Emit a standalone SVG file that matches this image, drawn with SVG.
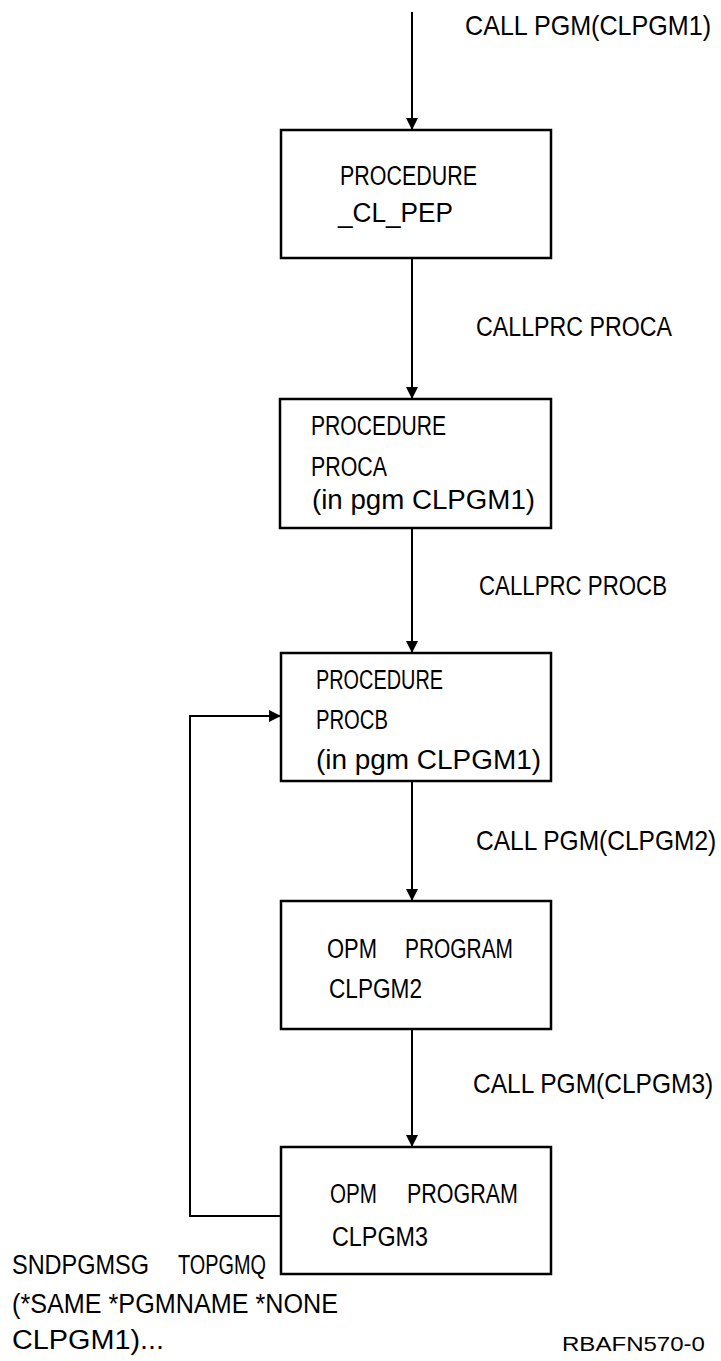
<svg xmlns="http://www.w3.org/2000/svg" width="721" height="1361" viewBox="0 0 721 1361">
<style>
  .box { fill: #ffffff; stroke: #000000; stroke-width: 2.5; }
  .edge { fill: none; stroke: #000000; stroke-width: 2; }
  text { font-family: "Liberation Sans", Arial, sans-serif; font-size: 27px; fill: #000000; }
  .small { font-size: 21px; }
</style>
<defs>
  <marker id="ah" viewBox="0 0 12 12" markerWidth="12" markerHeight="12" refX="12" refY="6" orient="auto" markerUnits="userSpaceOnUse">
    <path d="M0,0 L12,6 L0,12 z" fill="#000000"/>
  </marker>
</defs>
<rect width="721" height="1361" fill="#ffffff"/>

<g id="connectors">
  <line class="edge" x1="412" y1="12" x2="412" y2="130" marker-end="url(#ah)"/>
  <line class="edge" x1="412" y1="258" x2="412" y2="399" marker-end="url(#ah)"/>
  <line class="edge" x1="412" y1="528" x2="412" y2="653" marker-end="url(#ah)"/>
  <line class="edge" x1="412" y1="781" x2="412" y2="901" marker-end="url(#ah)"/>
  <line class="edge" x1="412" y1="1029" x2="412" y2="1147" marker-end="url(#ah)"/>
  <polyline class="edge" points="281,1216 190,1216 190,716 281,716" marker-end="url(#ah)"/>
  <text transform="translate(465,35) scale(0.84,1)" x="0" y="0" textLength="293" lengthAdjust="spacingAndGlyphs">CALL PGM(CLPGM1)</text>
  <text x="476" y="336" textLength="196" lengthAdjust="spacingAndGlyphs">CALLPRC PROCA</text>
  <text x="479" y="595" textLength="188" lengthAdjust="spacingAndGlyphs">CALLPRC PROCB</text>
  <text transform="translate(476,850) scale(0.82,1)" x="0" y="0" textLength="293" lengthAdjust="spacingAndGlyphs">CALL PGM(CLPGM2)</text>
  <text transform="translate(473,1093) scale(0.82,1)" x="0" y="0" textLength="293" lengthAdjust="spacingAndGlyphs">CALL PGM(CLPGM3)</text>
  <text x="12" y="1274"><tspan textLength="137" lengthAdjust="spacingAndGlyphs">SNDPGMSG</tspan><tspan x="178" textLength="88" lengthAdjust="spacingAndGlyphs">TOPGMQ</tspan></text>
  <text x="12" y="1313" textLength="326" lengthAdjust="spacingAndGlyphs">(*SAME *PGMNAME *NONE</text>
  <text x="12" y="1349" textLength="152" lengthAdjust="spacingAndGlyphs">CLPGM1)...</text>
</g>

<g id="node-cl-pep">
  <rect class="box" x="281" y="130" width="270" height="128"/>
  <text x="340" y="185" textLength="137" lengthAdjust="spacingAndGlyphs">PROCEDURE</text>
  <text x="338" y="222" textLength="115" lengthAdjust="spacingAndGlyphs">_CL_PEP</text>
</g>

<g id="node-proca">
  <rect class="box" x="280" y="399" width="271" height="129"/>
  <text x="311" y="435" textLength="135" lengthAdjust="spacingAndGlyphs">PROCEDURE</text>
  <text x="311" y="476" textLength="76" lengthAdjust="spacingAndGlyphs">PROCA</text>
  <text x="312" y="509" textLength="223" lengthAdjust="spacingAndGlyphs">(in pgm CLPGM1)</text>
</g>

<g id="node-procb">
  <rect class="box" x="281" y="653" width="270" height="128"/>
  <text x="316" y="689" textLength="127" lengthAdjust="spacingAndGlyphs">PROCEDURE</text>
  <text x="316" y="729" textLength="72" lengthAdjust="spacingAndGlyphs">PROCB</text>
  <text x="316" y="769" textLength="225" lengthAdjust="spacingAndGlyphs">(in pgm CLPGM1)</text>
</g>

<g id="node-clpgm2">
  <rect class="box" x="281" y="901" width="270" height="128"/>
  <text x="327" y="958"><tspan textLength="50" lengthAdjust="spacingAndGlyphs">OPM</tspan><tspan x="405" textLength="108" lengthAdjust="spacingAndGlyphs">PROGRAM</tspan></text>
  <text x="329" y="998" textLength="93" lengthAdjust="spacingAndGlyphs">CLPGM2</text>
</g>

<g id="node-clpgm3">
  <rect class="box" x="281" y="1147" width="270" height="127"/>
  <text x="330" y="1203"><tspan textLength="47" lengthAdjust="spacingAndGlyphs">OPM</tspan><tspan x="407" textLength="111" lengthAdjust="spacingAndGlyphs">PROGRAM</tspan></text>
  <text x="332" y="1246" textLength="96" lengthAdjust="spacingAndGlyphs">CLPGM3</text>
</g>

<text class="small" x="562" y="1351" textLength="143" lengthAdjust="spacingAndGlyphs">RBAFN570-0</text>
</svg>
